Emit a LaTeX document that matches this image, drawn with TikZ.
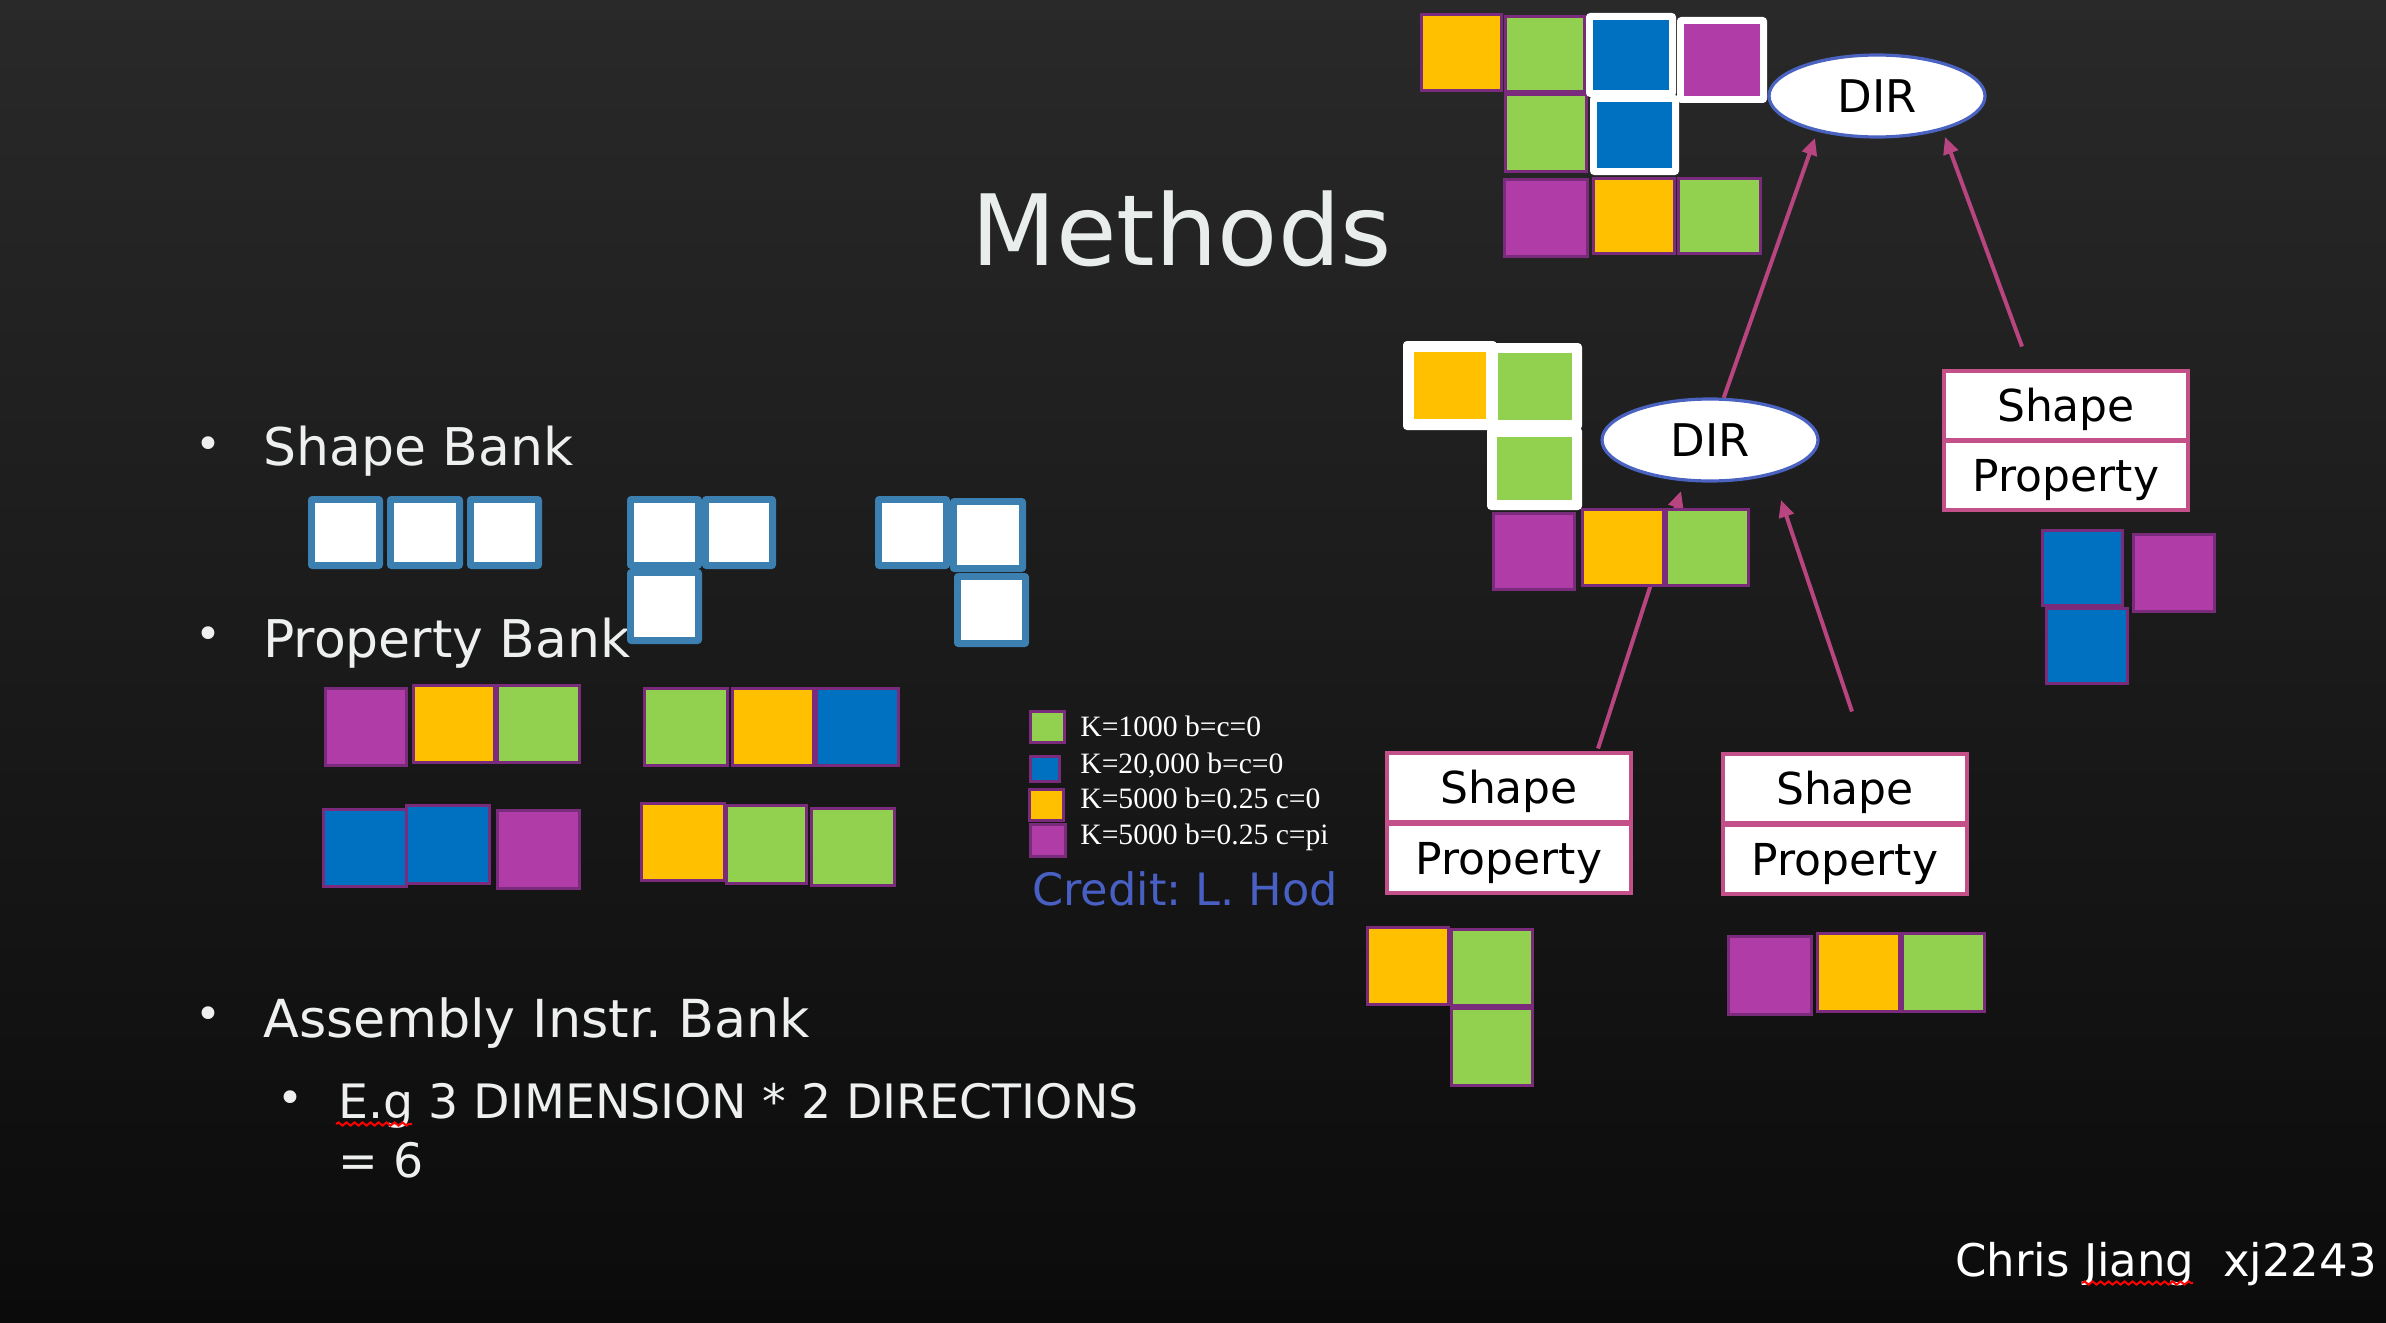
\documentclass[tikz,border=0pt]{standalone}
\usepackage{fontspec}
\setmainfont{DejaVu Sans}
\newfontfamily\legendfont{Liberation Serif}
\usetikzlibrary{shapes.geometric,arrows.meta,calc,decorations.pathmorphing}
\frenchspacing
\definecolor{cOr}{HTML}{FFC000}
\definecolor{cGr}{HTML}{92D050}
\definecolor{cBl}{HTML}{0070C0}
\definecolor{cPu}{HTML}{B03CA8}
\definecolor{cPb}{HTML}{7A2B7C}
\definecolor{cSb}{HTML}{3C80B2}
\definecolor{cArr}{HTML}{B8457F}
\definecolor{cBox}{HTML}{C4508A}
\definecolor{cEll}{HTML}{4A62C0}
\definecolor{cTxt}{HTML}{EEF0F0}
\definecolor{cTitle}{HTML}{E9EDEC}
\definecolor{cCred}{HTML}{4860C4}
\definecolor{bgTop}{HTML}{292929}
\definecolor{bgBot}{HTML}{0B0B0B}
\newcommand{\fsz}[1]{\fontsize{#1pt}{#1pt}\selectfont}
% colored square with dark purple border: x1 y1 x2 y2 colour
\newcommand{\psq}[5]{\fill[cPb] (#1,#2) rectangle (#3,#4);
  \fill[#5] (#1+3,#2+3) rectangle (#3-3,#4-3);}
% colored square with white border: x1 y1 x2 y2 colour thickness
\newcommand{\wsq}[6]{\fill[white,rounded corners=2pt] (#1,#2) rectangle (#3,#4);
  \fill[#5] (#1+#6,#2+#6) rectangle (#3-#6,#4-#6);}
% shape-bank square: x1 y1 x2 y2
\newcommand{\bsq}[4]{\fill[cSb,rounded corners=2pt] (#1,#2) rectangle (#3,#4);
  \fill[white] (#1+7,#2+7) rectangle (#3-7,#4-7);}
\tikzset{
 arr/.style={draw=cArr, line width=2pt, -{Triangle[length=8.5pt,width=7.5pt]}},
 dirnode/.style={ellipse, draw=cEll, line width=1.6pt, fill=white, minimum width=108pt,
   minimum height=41pt, inner sep=0pt, text=black, font=\fsz{22.5}, text height=16.5pt, text depth=0pt},
 spbox/.style={rectangle, draw=cBox, line width=2pt, fill=white, minimum width=122pt,
   minimum height=34.5pt, inner sep=0pt, text=black, font=\fsz{22}, text height=16pt, text depth=0pt},
 lbl/.style={inner sep=0pt, anchor=base west, text=cTxt},
 bul/.style={inner sep=0pt, anchor=base, text=cTxt, font=\fsz{22}},
 squig/.style={draw=red, line width=1pt, decorate, decoration={snake, segment length=4pt, amplitude=0.8pt}},
}
\begin{document}
\begin{tikzpicture}[x=0.5pt,y=-0.5pt]
\useasboundingbox (0,0) rectangle (2386,1322);
\shade[top color=bgTop, bottom color=bgBot] (0,0) rectangle (2386,1322);

% ---- texts ----
\node[lbl, font=\fsz{49.2}, text=cTitle] (title) at (971,265) {Methods};
\node[bul] (b1) at (208,459) {•};
\node[lbl, font=\fsz{26}] (t1) at (263,465) {Shape Bank};
\node[bul] (b2) at (208,649) {•};
\node[lbl, font=\fsz{26}] (t2) at (263,657) {Property Bank};
\node[bul] (b3) at (208,1029) {•};
\node[lbl, font=\fsz{26.2}] (t3) at (263,1037) {Assembly Instr.\hspace{0.3em}Bank};
\node[bul] (b4) at (290,1113) {•};
\node[lbl, font=\fsz{23.7}] (t4) at (338,1118) {E.g 3 DIMENSION * 2 DIRECTIONS};
\node[lbl, font=\fsz{23.7}] (t5) at (338,1177) {= 6};
\node[lbl, font=\fsz{22.5}, text=white] (sig) at (1955,1276) {Chris Jiang\ \ xj2243};
\draw[squig] (336,1124) -- (412,1124);
\draw[squig] (2082,1283) -- (2193,1283);

% legend
\node[lbl, font=\legendfont\fsz{14.8}, text=white] (l1) at (1080,736) {K=1000 b=c=0};
\node[lbl, font=\legendfont\fsz{14.8}, text=white] (l2) at (1080,773) {K=20,000 b=c=0};
\node[lbl, font=\legendfont\fsz{14.8}, text=white] (l3) at (1080,808) {K=5000 b=0.25 c=0};
\node[lbl, font=\legendfont\fsz{14.8}, text=white] (l4) at (1080,844) {K=5000 b=0.25 c=pi};
\node[lbl, font=\fsz{22.3}, text=cCred] (cred) at (1032,905) {Credit: L. Hod};

% ---- tree nodes ----
\node[dirnode] (dirtop) at (1877,96) {DIR};
\node[dirnode] (dirmid) at (1710,440) {DIR};
\node[spbox] (sR) at (2066,405) {Shape};
\node[spbox] (pR) at (2066,475.5) {Property};
\node[spbox] (sL) at (1509,787) {Shape};
\node[spbox] (pL) at (1509,858) {Property};
\node[spbox] (sB) at (1845,788) {Shape};
\node[spbox] (pB) at (1845,859) {Property};

% ---- arrows ----
\draw[arr] (dirmid.72) -- ($(dirtop.center)+(-62,42)$);
\draw[arr] ($(sR.north)+(-44,-22)$) -- ($(dirtop.center)+(68,41)$);
\draw[arr] ($(sL.north)+(89,-2)$) -- ($(dirmid.center)+(-29,51)$);
\draw[arr] ($(sB.north)+(7,-40)$) -- ($(dirmid.center)+(71,60)$);

% ---- top cluster ----
\psq{1420}{13}{1503}{92}{cOr}
\psq{1504}{15}{1586}{93}{cGr}
\psq{1504}{93}{1588}{173}{cGr}
\psq{1503}{178}{1589}{258}{cPu}
\psq{1592}{177}{1676}{255}{cOr}
\psq{1677}{177}{1762}{255}{cGr}
\wsq{1586}{13}{1676}{97}{cBl}{7}
\wsq{1677}{17}{1767}{103}{cPu}{7}
\wsq{1590}{95}{1679}{175}{cBl}{7}

% ---- middle cluster ----
\wsq{1403}{341}{1497}{430}{cOr}{11}
\wsq{1488}{343}{1582}{430}{cGr}{10}
\wsq{1487}{427}{1582}{510}{cGr}{10}
\psq{1492}{512}{1576}{591}{cPu}
\psq{1581}{508}{1665}{587}{cOr}
\psq{1665}{508}{1750}{587}{cGr}

% ---- right cluster ----
\psq{2041}{529}{2124}{607}{cBl}
\psq{2132}{533}{2216}{613}{cPu}
\psq{2045}{607}{2129}{685}{cBl}

% ---- bottom clusters ----
\psq{1366}{926}{1450}{1006}{cOr}
\psq{1450}{928}{1534}{1007}{cGr}
\psq{1450}{1007}{1534}{1087}{cGr}
\psq{1727}{935}{1813}{1016}{cPu}
\psq{1816}{932}{1901}{1013}{cOr}
\psq{1901}{932}{1986}{1013}{cGr}

% ---- property bank ----
\psq{324}{687}{408}{767}{cPu}
\psq{412}{684}{496}{764}{cOr}
\psq{496}{684}{581}{764}{cGr}
\psq{643}{687}{729}{767}{cGr}
\psq{731}{687}{815}{767}{cOr}
\psq{815}{687}{900}{767}{cBl}
\psq{322}{808}{408}{888}{cBl}
\psq{405}{804}{491}{885}{cBl}
\psq{496}{809}{581}{890}{cPu}
\psq{640}{802}{726}{882}{cOr}
\psq{725}{804}{808}{885}{cGr}
\psq{810}{807}{896}{887}{cGr}

% legend squares
\psq{1029}{710}{1066}{744}{cGr}
\psq{1029}{755}{1061}{783}{cBl}
\psq{1028}{788}{1065}{822}{cOr}
\psq{1029}{823}{1067}{858}{cPu}

% ---- shape bank ----
\bsq{308}{496}{383}{569}
\bsq{387}{496}{463}{569}
\bsq{467}{496}{542}{569}
\bsq{627}{496}{702}{569}
\bsq{702}{496}{776}{569}
\bsq{627}{569}{702}{644}
\bsq{875}{496}{950}{569}
\bsq{950}{498}{1026}{572}
\bsq{954}{573}{1029}{647}
\end{tikzpicture}
\end{document}
